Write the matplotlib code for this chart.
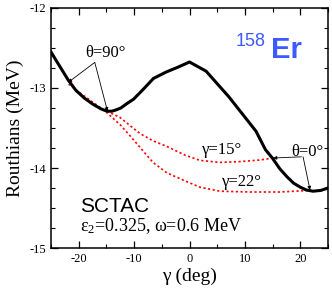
import numpy as np
import matplotlib
matplotlib.use("Agg")
import matplotlib.pyplot as plt
from matplotlib.ticker import MultipleLocator

plt.rcParams['font.family'] = ['Liberation Serif', 'DejaVu Serif']
plt.rcParams['axes.unicode_minus'] = False
plt.rcParams['mathtext.fontset'] = 'custom'
plt.rcParams['mathtext.rm'] = 'Liberation Serif'
plt.rcParams['mathtext.it'] = 'Liberation Serif:italic'
plt.rcParams['mathtext.default'] = 'rm'

# black curve: TAC routhian vs gamma
gamma_tac = [-25, -23.5, -21.9, -20.5, -19.0, -17.5, -16.0, -15.3, -14.7, -14.0,
             -13.3, -12.4, -11.2, -10.1, -8.4, -6.5, -4.2, -2.1, 0.0, 3.0,
             7.1, 12.0, 13.7, 15.0, 16.3, 17.6, 18.8, 20.0, 21.1, 22.3,
             23.7, 25.0]
e_tac = [-12.55, -12.72, -12.90, -13.03, -13.125, -13.20, -13.26, -13.28, -13.29, -13.29,
         -13.275, -13.25, -13.19, -13.14, -13.02, -12.88, -12.80, -12.74, -12.675, -12.79,
         -13.11, -13.54, -13.77, -13.88, -14.01, -14.11, -14.19, -14.24, -14.275, -14.29,
         -14.28, -14.25]

# red dotted SCTAC paths
gamma_15 = [-14.9, -12.5, -10.2, -8.9, -6.6, -4.1, -0.8, 1.9, 5.5, 9.1, 12.7, 15.1]
e_15 = [-13.29, -13.37, -13.50, -13.57, -13.66, -13.73, -13.84, -13.905, -13.93, -13.92, -13.90, -13.875]

gamma_22 = [-21.8, -19.8, -18.0, -16.2, -14.9, -12.5, -10.2, -6.6, -4.1, -1.2,
            1.9, 5.5, 10.9, 16.3, 21.8]
e_22 = [-12.95, -13.06, -13.15, -13.24, -13.31, -13.46, -13.64, -13.93, -14.06, -14.15,
        -14.24, -14.29, -14.30, -14.30, -14.28]

fig = plt.figure(figsize=(3.32, 2.95), dpi=100)
ax = fig.add_axes([0.1536, 0.1593, 0.8344, 0.8136])

ax.plot(gamma_tac, e_tac, color='black', lw=2.2, zorder=3)
ax.plot(gamma_15, e_15, color='red', lw=1.2, ls=(0, (1.3, 1.5)), zorder=2)
ax.plot(gamma_22, e_22, color='red', lw=1.2, ls=(0, (1.3, 1.5)), zorder=2)

ax.set_xlim(-25, 25)
ax.set_ylim(-15, -12)
ax.xaxis.set_major_locator(MultipleLocator(10))
ax.xaxis.set_minor_locator(MultipleLocator(5))
ax.yaxis.set_major_locator(MultipleLocator(1))
ax.yaxis.set_minor_locator(MultipleLocator(0.25))
ax.tick_params(which='both', direction='in', top=True, right=True, labelsize=9)
ax.tick_params(which='major', length=5, width=0.9)
ax.tick_params(which='minor', length=3, width=0.8)
for s in ax.spines.values():
    s.set_linewidth(1.1)

ax.set_xlabel('γ (deg)', fontsize=14, labelpad=2)
ax.set_ylabel('Routhians (MeV)', fontsize=14, labelpad=4)

arr = dict(arrowstyle='-|>', color='black', lw=0.6, mutation_scale=5, shrinkA=0, shrinkB=0)
ax.text(-15.1, -12.565, 'θ=90°', fontsize=12, ha='center', va='center')
ax.annotate('', xy=(-21.9, -12.93), xytext=(-17.1, -12.68), arrowprops=arr)
ax.annotate('', xy=(-14.8, -13.29), xytext=(-17.1, -12.68), arrowprops=arr)

ax.text(21.3, -13.80, 'θ=0°', fontsize=12, ha='center', va='center')
ax.annotate('', xy=(15.1, -13.875), xytext=(20.2, -13.86), arrowprops=arr)
ax.annotate('', xy=(21.75, -14.275), xytext=(20.5, -13.86), arrowprops=arr)

ax.text(5.85, -13.775, 'γ=15°', fontsize=12, ha='center', va='center')
ax.text(9.4, -14.175, 'γ=22°', fontsize=12, ha='center', va='center')

ax.text(-19.8, -14.475, 'SCTAC', fontsize=15, family='Liberation Sans',
        ha='left', va='center')
ax.text(-19.8, -14.79, 'ε$_2$=0.325, ω=0.6 MeV', fontsize=13,
        ha='left', va='baseline')

ax.text(13.8, -12.47, '158', fontsize=13, family='Liberation Sans',
        color='#3b5bff', ha='right', va='baseline')
ax.text(14.7, -12.63, 'Er', fontsize=21, family='Liberation Sans', weight='bold',
        color='#3b5bff', ha='left', va='baseline')

fig.savefig('out.png', dpi=100)
